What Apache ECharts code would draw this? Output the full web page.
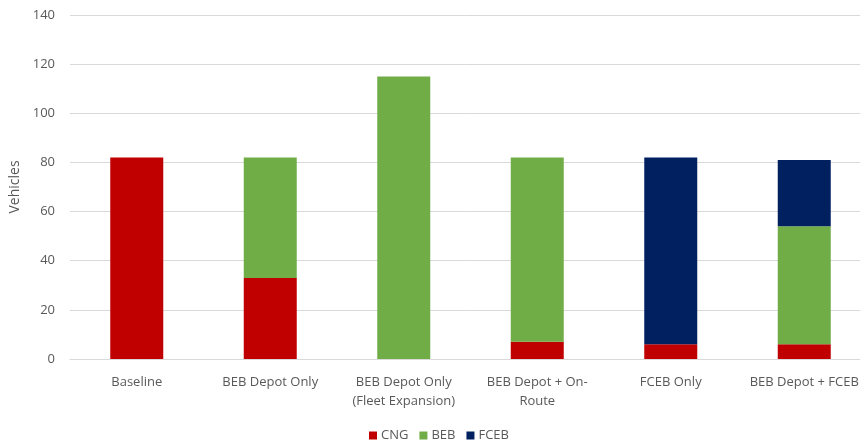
<!DOCTYPE html>
<html>
<head>
<meta charset="utf-8">
<script src="https://cdn.jsdelivr.net/npm/echarts@6/dist/echarts.min.js"></script>
<style>
  html, body { margin: 0; padding: 0; background: #fff; }
  #chart { width: 860px; height: 440px; }
</style>
</head>
<body>
<div id="chart"></div>
<script>
// Fleet composition by scenario
const categories = [
  'Baseline',
  'BEB Depot Only',
  'BEB Depot Only\n(Fleet Expansion)',
  'BEB Depot + On-\nRoute',
  'FCEB Only',
  'BEB Depot + FCEB'
];
const cngValues  = [82, 33, 0, 7, 6, 6];
const bebValues  = [0, 49, 115, 75, 0, 48];
const fcebValues = [0, 0, 0, 0, 76, 27];
const yTicks = { min: 0, max: 140, interval: 20 };

const font = 'Open Sans, sans-serif';
const textColor = '#595959';

const chart = echarts.init(document.getElementById('chart'), null, { renderer: 'canvas' });

function barSeries(name, data, color) {
  return {
    name: name,
    type: 'bar',
    stack: 'fleet',
    data: data,
    barWidth: 53,
    itemStyle: { color: color },
    emphasis: { disabled: true }
  };
}

chart.setOption({
  animation: false,
  textStyle: { fontFamily: font },
  grid: {
    left: 70, top: 15, width: 801, height: 344,
    containLabel: false,
    outerBoundsMode: 'none'
  },
  xAxis: {
    type: 'category',
    data: categories,
    axisTick: { show: false },
    axisLine: { lineStyle: { color: '#d9d9d9', width: 1 } },
    axisLabel: { color: textColor, fontSize: 13, margin: 14, lineHeight: 19, interval: 0 }
  },
  yAxis: {
    type: 'value',
    min: yTicks.min,
    max: yTicks.max,
    interval: yTicks.interval,
    name: 'Vehicles',
    nameLocation: 'middle',
    nameGap: 46,
    nameTextStyle: { color: textColor, fontSize: 14 },
    axisLine: { show: false },
    axisTick: { show: false },
    axisLabel: { color: textColor, fontSize: 13, margin: 15 },
    splitLine: { lineStyle: { color: '#d9d9d9', width: 1 } }
  },
  legend: {
    top: 424,
    left: 364,
    itemWidth: 8,
    itemHeight: 8,
    itemGap: 11,
    icon: 'rect',
    textStyle: { color: textColor, fontSize: 13, padding: [0, 0, 0, -1] },
    data: ['CNG', 'BEB', 'FCEB']
  },
  series: [
    barSeries('CNG', cngValues, '#C00000'),
    barSeries('BEB', bebValues, '#70AD47'),
    barSeries('FCEB', fcebValues, '#002060')
  ]
});
</script>
</body>
</html>
